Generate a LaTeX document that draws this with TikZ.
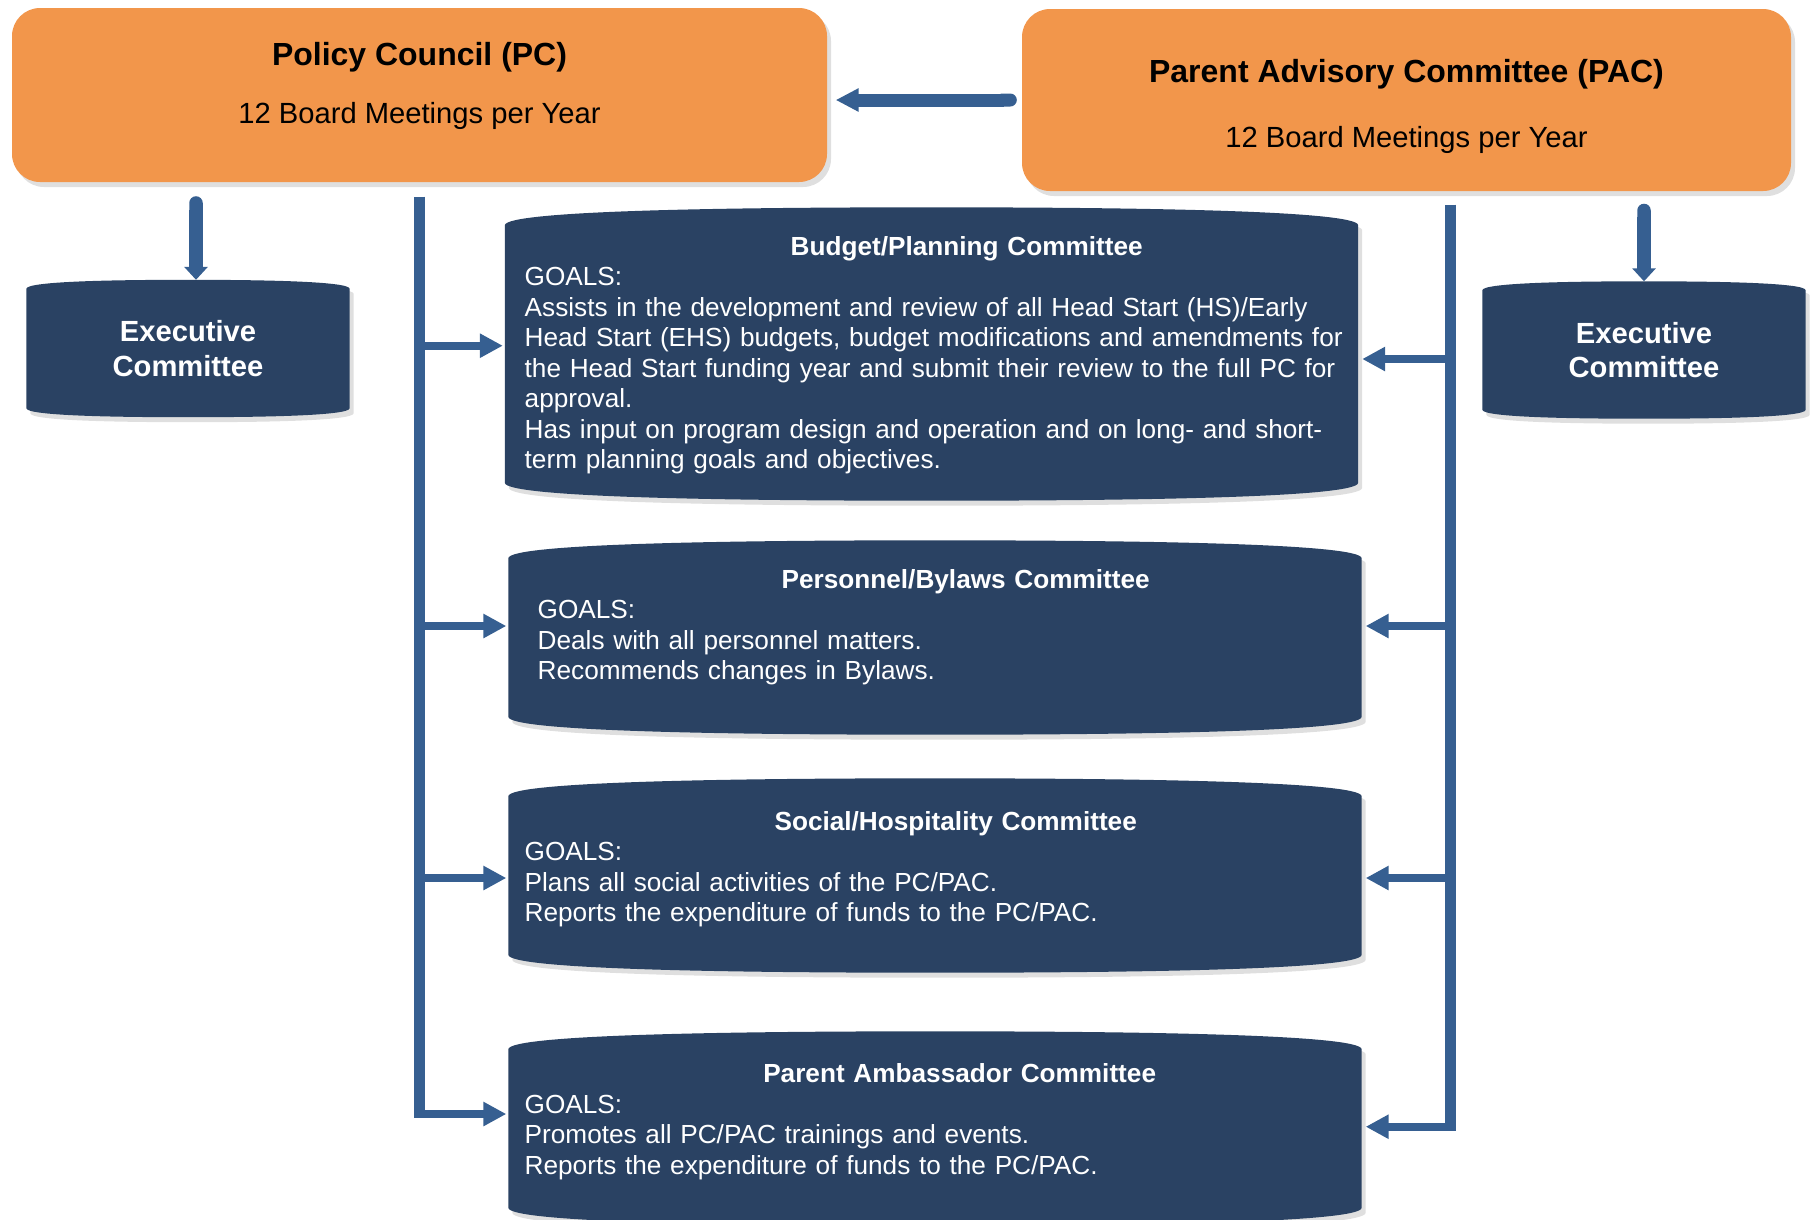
\documentclass[tikz,border=0pt]{standalone}
\usepackage{fontspec}
\setmainfont{Liberation Sans}
\usetikzlibrary{positioning,calc,arrows.meta,shadows,backgrounds}

\definecolor{pcorange}{HTML}{F2964B}
\definecolor{goalblue}{HTML}{2A4263}
\definecolor{linkblue}{HTML}{365F91}

\newcommand{\bulgefill}[2]{%
	\fill[goalblue,boxshadow]
		([yshift=-#2]#1.north west)
		.. controls ([yshift=-0.15*#2]#1.north west) and ($(#1.north west)!0.28!(#1.north east)$) .. (#1.north)
		.. controls ($(#1.north west)!0.72!(#1.north east)$) and ([yshift=-0.15*#2]#1.north east) .. ([yshift=-#2]#1.north east)
		-- ([yshift=#2]#1.south east)
		.. controls ([yshift=0.15*#2]#1.south east) and ($(#1.south west)!0.72!(#1.south east)$) .. (#1.south)
		.. controls ($(#1.south west)!0.28!(#1.south east)$) and ([yshift=0.15*#2]#1.south west) .. ([yshift=#2]#1.south west)
		-- cycle;}
\newcommand{\goalhead}[2]{\makebox[\linewidth]{\hspace{#1}\textbf{#2}}}

\begin{document}
\begin{tikzpicture}[x=0.1mm,y=-0.1mm,
	boxshadow/.style={drop shadow={opacity=0.25,shadow xshift=0.4mm,shadow yshift=-0.5mm}},
	councilbox/.style={rectangle,rounded corners=2.8mm,fill=pcorange,boxshadow,inner sep=0pt},
	councilname/.style={font=\fontsize{9.1}{11}\selectfont\bfseries},
	councilmeet/.style={font=\fontsize{8.3}{10}\selectfont},
	execbox/.style={minimum width=32.2mm,minimum height=13.6mm,inner sep=0pt,text=white,align=center,font=\fontsize{8.3}{9.9}\selectfont\bfseries},
	goalbox/.style={minimum width=85.2mm,minimum height=19.3mm,inner sep=0pt},
	goaltext/.style={anchor=west,inner sep=0pt,text width=86mm,align=left,text=white,font=\fontsize{7.45}{8.68}\selectfont},
	trunk/.style={draw=linkblue,line width=1.1mm},
	branch/.style={draw=linkblue,line width=0.83mm,-{Triangle[width=2.3mm,length=2.3mm]}},
	downlink/.style={draw=linkblue,line width=1.35mm,{Round Cap[]}-{Triangle[width=2.3mm,length=1.3mm]}},
	feedlink/.style={draw=linkblue,line width=1.3mm,{Round Cap[]}-{Triangle[width=2.2mm,length=2.3mm]}}]

	\useasboundingbox (0,0) rectangle (1814,1219);

	\node[councilbox,minimum width=81.5mm,minimum height=17.4mm] (pc) at (419.5,95) {};
	\node[councilname] (pcname) at (419.5,57.5) {Policy Council (PC)};
	\node[councilmeet] (pcmeet) at (419.5,115.5) {12 Board Meetings per Year};

	\node[councilbox,minimum width=76.9mm,minimum height=18.2mm] (pac) at (1406.5,100) {};
	\node[councilname] (pacname) at (1406.5,74.5) {Parent Advisory Committee (PAC)};
	\node[councilmeet] (pacmeet) at (1406.5,139.5) {12 Board Meetings per Year};

	\node[execbox] (exl) at (188,348.5) {Executive\\Committee};
	\node[execbox] (exr) at (1644,350) {Executive\\Committee};

	\node[goalbox,minimum height=29.2mm] (bud) at (931.5,354) {};
	\node[goalbox] (per) at (935,637.5) {};
	\node[goalbox] (soc) at (935,875.5) {};
	\node[goalbox] (amb) at (935,1128.5) {};

	\begin{scope}[on background layer]
		\bulgefill{exl}{0.9mm}
		\bulgefill{exr}{0.9mm}
		\foreach \b in {bud,per,soc,amb} {\bulgefill{\b}{1.8mm}}
	\end{scope}

	\node[goaltext] (budtext) at (524,355) {\goalhead{2.4mm}{Budget/Planning Committee}\\
		GOALS:\\
		Assists in the development and review of all Head Start (HS)/Early\\
		Head Start (EHS) budgets, budget modifications and amendments for\\
		the Head Start funding year and submit their review to the full PC for\\
		approval.\\
		Has input on program design and operation and on long- and short-\\
		term planning goals and objectives.};
	\node[goaltext] (pertext) at (537,627) {\goalhead{-0.4mm}{Personnel/Bylaws Committee}\\
		GOALS:\\
		Deals with all personnel matters.\\
		Recommends changes in Bylaws.};
	\node[goaltext] (soctext) at (524,869) {\goalhead{0.2mm}{Social/Hospitality Committee}\\
		GOALS:\\
		Plans all social activities of the PC/PAC.\\
		Reports the expenditure of funds to the PC/PAC.};
	\node[goaltext] (ambtext) at (524,1121.5) {\goalhead{1mm}{Parent Ambassador Committee}\\
		GOALS:\\
		Promotes all PC/PAC trainings and events.\\
		Reports the expenditure of funds to the PC/PAC.};

	\draw[feedlink,shorten <=0.45mm,shorten >=0.8mm] (pac.west) -- (pac.west -| pc.east);
	\draw[downlink,shorten <=1.35mm] ([xshift=0.8mm]exl.north |- pc.south) -- ([xshift=0.8mm]exl.north);
	\draw[downlink,shorten <=1.2mm] (exr.north |- pac.south) -- (exr.north);

	\coordinate (pacfork) at ([xshift=4.35mm,yshift=-1.3mm]pac.south);
	\draw[trunk,shorten <=1.4mm] (pc.south) -- ([yshift=1.03mm]pc.south |- amb.west);
	\draw[trunk] (pacfork) -- ([yshift=-0.24mm]pacfork |- amb.east);
	\foreach \b/\l/\r in {bud/0.83/-0.5,per/1.15/1.15,soc/-0.25/-0.25,amb/1.45/0.18} {
		\draw[branch,shorten >=0.2mm] ([yshift=\l*1mm]pc.south |- \b.west) -- ([yshift=\l*1mm]\b.west);
		\draw[branch,shorten >=0.4mm] ([yshift=\r*1mm]pacfork |- \b.east) -- ([yshift=\r*1mm]\b.east);
	}

\end{tikzpicture}
\end{document}
